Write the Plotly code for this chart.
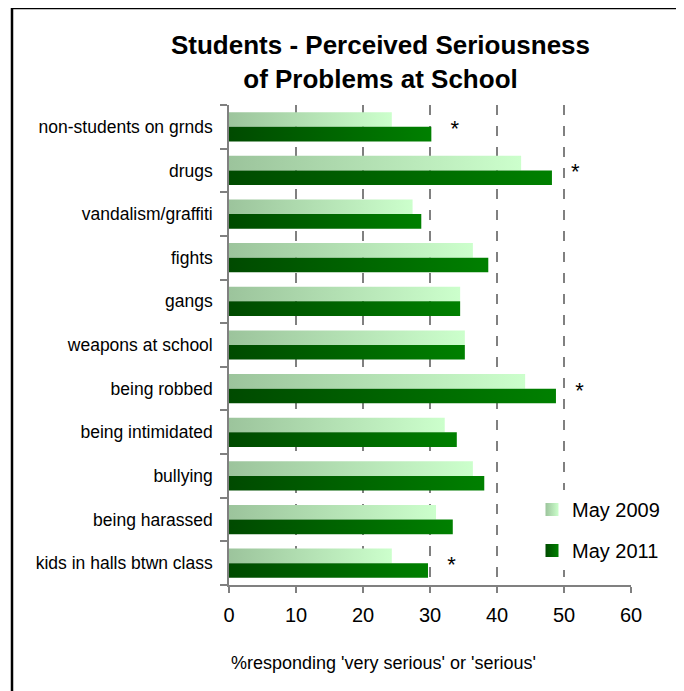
import plotly.graph_objects as go

categories = ["non-students on grnds", "drugs", "vandalism/graffiti", "fights", "gangs",
              "weapons at school", "being robbed", "being intimidated", "bullying",
              "being harassed", "kids in halls btwn class"]
may_2009 = [24.3, 43.6, 27.4, 36.4, 34.5, 35.2, 44.2, 32.2, 36.4, 30.9, 24.3]
may_2011 = [30.2, 48.2, 28.7, 38.7, 34.5, 35.2, 48.8, 34.0, 38.1, 33.4, 29.7]
significant = [True, True, False, False, False, False, True, False, False, False, True]
x_ticks = [0, 10, 20, 30, 40, 50, 60]
series_names = ["May 2009", "May 2011"]

# styles
CS_2009 = [[0, "#9CC49C"], [1, "#CCFFCC"]]
CS_2011 = [[0, "#004A00"], [1, "#008000"]]
BAR_H = 0.335
FONT = "Liberation Sans, Arial, sans-serif"

n = len(categories)
pos = [n - 1 - i for i in range(n)]

fig = go.Figure()


def add_bar(v, lo, hi, cs):
    fig.add_trace(go.Scatter(
        x=[0, v, v, 0, 0], y=[lo, lo, hi, hi, lo], mode="none", fill="toself",
        fillgradient=dict(type="horizontal", colorscale=cs, start=0, stop=v),
        showlegend=False, hoverinfo="skip"))


for i in range(n):
    c = pos[i]
    add_bar(may_2009[i], c, c + BAR_H, CS_2009)
    add_bar(may_2011[i], c - BAR_H, c, CS_2011)

# significance asterisks
sx, sy = [], []
for i in range(n):
    if significant[i]:
        sx.append(max(may_2009[i], may_2011[i]) + 3.5)
        sy.append(pos[i] - 0.08)
fig.add_trace(go.Scatter(x=sx, y=sy, mode="text", text=["*"] * len(sx),
                         textfont=dict(size=22, color="black", family=FONT),
                         showlegend=False, hoverinfo="skip"))

# legend entries
for name, cs, grp in [(series_names[0], CS_2009, "a"), (series_names[1], CS_2011, "b")]:
    fig.add_trace(go.Scatter(
        x=[None], y=[None], mode="markers", name=name, legendgroup=grp,
        marker=dict(symbol="square", size=13, color=cs[0][1],
                    gradient=dict(type="horizontal", color=cs[1][1]),
                    line=dict(width=0))))

# page has an 8px body margin; figure sized to fit the 684x691 window
W, H = 676, 683
L, T = 221, 97
PW, PH = 402, 480
R, B = W - L - PW, H - T - PH
# screen (page) coordinates of plot area
SX0, SX1, SY0, SY1 = 229, 631, 105, 585


def px(x):
    return (x - SX0) / (SX1 - SX0)


def py(y):
    return (SY1 - y) / (SY1 - SY0)


fig.update_layout(
    width=W, height=H, template="none",
    paper_bgcolor="white", plot_bgcolor="white",
    margin=dict(l=L, r=R, t=T, b=B, autoexpand=False),
    font=dict(family=FONT, color="black"),
    title=dict(text="<b>Students - Perceived Seriousness<br>of Problems at School</b>",
               x=372.5 / W, xanchor="center", y=1 - 46 / H, yanchor="middle",
               font=dict(family="Liberation Sans, Arial", size=26, color="black")),
    xaxis=dict(range=[0, 60], tickvals=x_ticks, ticks="outside", ticklen=6,
               tickcolor="#808080", tickwidth=1.5, showline=True, linecolor="#808080",
               linewidth=1.5, showgrid=True, gridcolor="#808080", gridwidth=2,
               griddash="10px,11px", zeroline=False, automargin=False,
               tickfont=dict(size=20, color="black"), ticklabelstandoff=5),
    yaxis=dict(range=[-0.5, n - 0.5], tickvals=pos, ticktext=categories, ticks="",
               showline=True, linecolor="#808080", linewidth=1.5, showgrid=False,
               zeroline=False, automargin=False, ticklabelstandoff=11,
               tickfont=dict(size=17.5, color="black"),
               minor=dict(tickvals=[k - 0.5 for k in range(n + 1)], ticks="outside",
                          ticklen=7, tickcolor="#808080", tickwidth=1.5, showgrid=False)),
    legend=dict(x=px(532), y=py(490), xanchor="left", yanchor="top",
                bgcolor="white", font=dict(size=20, color="black"),
                tracegroupgap=12, itemwidth=30),
    annotations=[dict(text="%responding 'very serious' or 'serious'", xref="paper",
                      yref="paper", x=px(383), y=py(663), xanchor="center",
                      yanchor="middle", showarrow=False,
                      font=dict(size=18, color="black"))],
    shapes=[
        dict(type="line", xref="paper", yref="paper", x0=px(12), x1=px(12),
             y0=py(8), y1=py(691), line=dict(color="black", width=2.5)),
        dict(type="line", xref="paper", yref="paper", x0=px(12), x1=px(684),
             y0=py(8), y1=py(8), line=dict(color="black", width=2.5)),
    ],
)

fig.write_html("out.html", config={"displayModeBar": False},
               post_script="document.body.style.overflow='hidden';")
